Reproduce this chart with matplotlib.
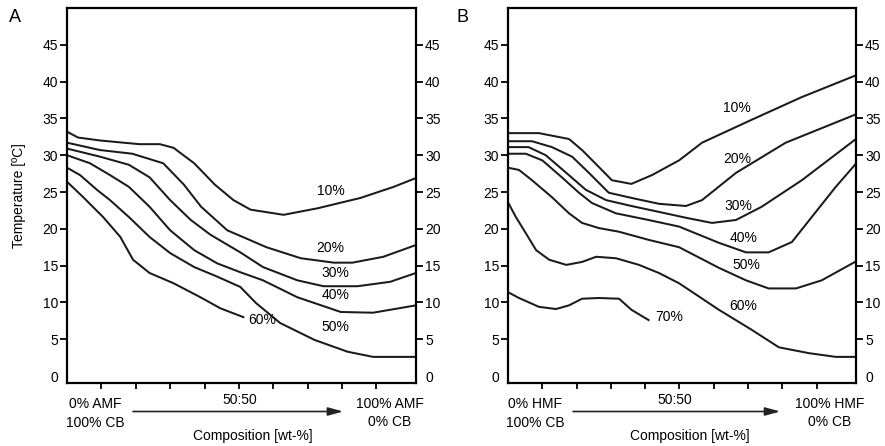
import matplotlib
matplotlib.use("Agg")
import matplotlib.pyplot as plt

plt.rcParams["font.family"] = ["Liberation Sans", "DejaVu Sans"]

# ---- panel A: AMF / CB (x = wt-% AMF, y = temperature in degC)
a10_x = [0, 3.2, 9.6, 21, 27, 31, 37, 43, 48.4, 53.4, 63, 73, 85.4, 95, 101.5]
a10_y = [33.2, 32.4, 32.0, 31.5, 31.5, 31.0, 28.9, 26.0, 23.9, 22.6, 21.9, 22.8, 24.2, 25.7, 26.9]
a20_x = [0, 9.6, 19, 28, 34, 39, 46.6, 58, 68, 77.6, 83, 92, 101.5]
a20_y = [31.7, 30.7, 30.2, 28.9, 26.0, 23.0, 19.8, 17.5, 16.0, 15.4, 15.4, 16.2, 17.8]
a30_x = [0, 9.6, 18, 24, 30, 36, 41.7, 50.4, 57, 67, 74.6, 84.5, 94, 101.5]
a30_y = [30.9, 29.8, 28.7, 27.0, 23.9, 21.2, 19.2, 16.8, 14.8, 13.0, 12.2, 12.2, 12.8, 14.0]
a40_x = [0, 6.7, 12.5, 18, 24, 30, 37, 43.7, 50.4, 57, 67, 79.6, 89, 101.5]
a40_y = [30.0, 28.9, 27.3, 25.7, 23.0, 19.8, 17.1, 15.3, 14.1, 13.0, 10.7, 8.7, 8.6, 9.6]
a50_x = [0, 3.8, 8.7, 12.5, 18, 24, 30, 37, 43.7, 50.4, 55, 62, 72, 81.6, 89, 101.5]
a50_y = [28.3, 27.3, 25.3, 23.9, 21.6, 18.9, 16.7, 14.8, 13.5, 12.1, 9.9, 7.2, 4.9, 3.3, 2.6, 2.6]
a60_x = [0, 4.7, 10.5, 15.5, 19.2, 24, 31, 38.8, 44.6, 51.3]
a60_y = [26.4, 24.3, 21.6, 18.9, 15.8, 14.0, 12.6, 10.7, 9.2, 8.0]

# ---- panel B: HMF / CB
b10_x = [0, 9, 17.8, 21.6, 26.5, 30.3, 36, 42, 49.9, 56.6, 71, 85.7, 101.2]
b10_y = [33.0, 33.0, 32.2, 30.7, 28.4, 26.6, 26.1, 27.3, 29.3, 31.7, 34.8, 37.9, 40.8]
b20_x = [0, 7, 12.8, 18.7, 23.6, 29.4, 36, 44, 51.9, 56.6, 66.5, 81, 101.2]
b20_y = [31.9, 31.9, 31.1, 29.8, 27.6, 24.9, 24.2, 23.4, 23.1, 23.9, 27.6, 31.7, 35.5]
b30_x = [0, 6, 11, 17, 22.7, 28.6, 36, 44, 51.9, 59.5, 66.5, 74, 85.7, 101.2]
b30_y = [31.1, 31.1, 30.0, 27.6, 25.3, 23.9, 23.1, 22.3, 21.5, 20.8, 21.2, 23.0, 26.6, 32.1]
b40_x = [0, 5.2, 10, 15.7, 20.7, 24.5, 31.5, 41, 49.9, 61.5, 69.4, 76, 82.8, 88.6, 95.6, 101.2]
b40_y = [30.2, 30.2, 29.3, 27.0, 24.9, 23.5, 22.1, 21.2, 20.3, 18.1, 16.8, 16.8, 18.2, 21.6, 25.7, 28.7]
b50_x = [0, 3.2, 7, 12.8, 17.8, 21.6, 26.5, 32.4, 41, 49.9, 61.5, 69.4, 76, 84, 91.5, 101.2]
b50_y = [28.3, 28.0, 26.6, 24.3, 22.1, 20.8, 20.1, 19.6, 18.5, 17.5, 14.7, 13.0, 11.9, 11.9, 13.0, 15.5]
b60_x = [0, 2.3, 5.2, 8.2, 12, 17, 21.6, 25.7, 31.5, 38.2, 44, 49.9, 61.5, 71, 79, 87.8, 95.6, 101.2]
b60_y = [23.6, 21.6, 19.4, 17.1, 15.8, 15.1, 15.5, 16.2, 16.0, 15.1, 14.0, 12.6, 9.0, 6.3, 3.9, 3.1, 2.6, 2.6]
b70_x = [0, 3.2, 9, 14, 17.8, 21.6, 26.5, 32.4, 36, 41]
b70_y = [11.4, 10.6, 9.4, 9.1, 9.6, 10.5, 10.6, 10.5, 9.0, 7.6]

labels_a = ["10%", "20%", "30%", "40%", "50%", "60%"]
label_pos_a = [(76.7, 25.2), (76.7, 17.4), (77.9, 14.0), (78.1, 11.0), (78.1, 6.7), (56.9, 7.6)]
labels_b = ["10%", "20%", "30%", "40%", "50%", "60%", "70%"]
label_pos_b = [(66.8, 36.4), (66.8, 29.5), (67.3, 23.1), (68.8, 18.8), (69.4, 15.1), (68.5, 9.5), (47.0, 8.0)]

yticks = [0, 5, 10, 15, 20, 25, 30, 35, 40, 45]
xticks = [10, 20, 30, 40, 50, 60, 70, 80, 90]


def style_axes(ax):
    ax.set_xlim(0, 101.5)
    ax.set_ylim(-0.95, 50)
    ax.set_yticks(yticks)
    ax.set_xticks(xticks)
    ax.set_xticklabels([])
    ax.tick_params(axis="y", direction="out", length=5, width=1.3, pad=1.5,
                   labelsize=10, left=True, right=True, labelleft=True, labelright=True)
    ax.tick_params(axis="x", direction="out", length=4.5, width=1.3, bottom=True, top=False)
    for s in ax.spines.values():
        s.set_linewidth(1.6)
    # no tick mark at 0, only the label
    t0 = ax.yaxis.get_major_ticks()[0]
    t0.tick1line.set_visible(False)
    t0.tick2line.set_visible(False)


def under_text(ax, left_lines, right_lines, x_left, x_mid, x_right, x_arrow0, x_arrow1, x_comp):
    kw = dict(transform=ax.transAxes, ha="center", va="center", fontsize=10, clip_on=False)
    ax.text(x_left, -0.056, left_lines[0], **kw)
    ax.text(x_left, -0.107, left_lines[1], **kw)
    ax.text(x_right, -0.056, right_lines[0], **kw)
    ax.text(x_right, -0.104, right_lines[1], **kw)
    ax.text(x_mid, -0.045, "50:50", **kw)
    ax.text(x_comp, -0.141, "Composition [wt-%]", **kw)
    ax.annotate("", xy=(x_arrow1, -0.076), xytext=(x_arrow0, -0.076),
                xycoords="axes fraction", textcoords="axes fraction",
                arrowprops=dict(arrowstyle="-|>,head_length=0.9,head_width=0.25",
                                color="#222222", lw=1.2, shrinkA=0, shrinkB=0))


fig = plt.figure(figsize=(8.85, 4.46), dpi=100)
ax_a = fig.add_axes([67 / 885, 63 / 446, 349 / 885, 375 / 446])
ax_b = fig.add_axes([508 / 885, 63 / 446, 348 / 885, 375 / 446])

line_kw = dict(color="#1a1a1a", lw=1.45, solid_joinstyle="round")
for xs, ys in [(a10_x, a10_y), (a20_x, a20_y), (a30_x, a30_y),
               (a40_x, a40_y), (a50_x, a50_y), (a60_x, a60_y)]:
    ax_a.plot(xs, ys, **line_kw)
for xs, ys in [(b10_x, b10_y), (b20_x, b20_y), (b30_x, b30_y), (b40_x, b40_y),
               (b50_x, b50_y), (b60_x, b60_y), (b70_x, b70_y)]:
    ax_b.plot(xs, ys, **line_kw)

for lab, (x, y) in zip(labels_a, label_pos_a):
    ax_a.text(x, y, lab, ha="center", va="center", fontsize=10)
for lab, (x, y) in zip(labels_b, label_pos_b):
    ax_b.text(x, y, lab, ha="center", va="center", fontsize=10)

for ax in (ax_a, ax_b):
    style_axes(ax)

ax_a.set_ylabel("Temperature [ºC]", fontsize=10, labelpad=12)

under_text(ax_a, ["0% AMF", "100% CB"], ["100% AMF", "0% CB"],
           0.08, 0.496, 0.925, 0.189, 0.791, 0.533)
under_text(ax_b, ["0% HMF", "100% CB"], ["100% HMF", "0% CB"],
           0.078, 0.48, 0.925, 0.187, 0.782, 0.523)

fig.text(15 / 885, 1 - 18 / 446, "A", fontsize=13, ha="center", va="center")
fig.text(462 / 885, 1 - 18 / 446, "B", fontsize=13, ha="center", va="center")

fig.savefig("out.png", dpi=100)
